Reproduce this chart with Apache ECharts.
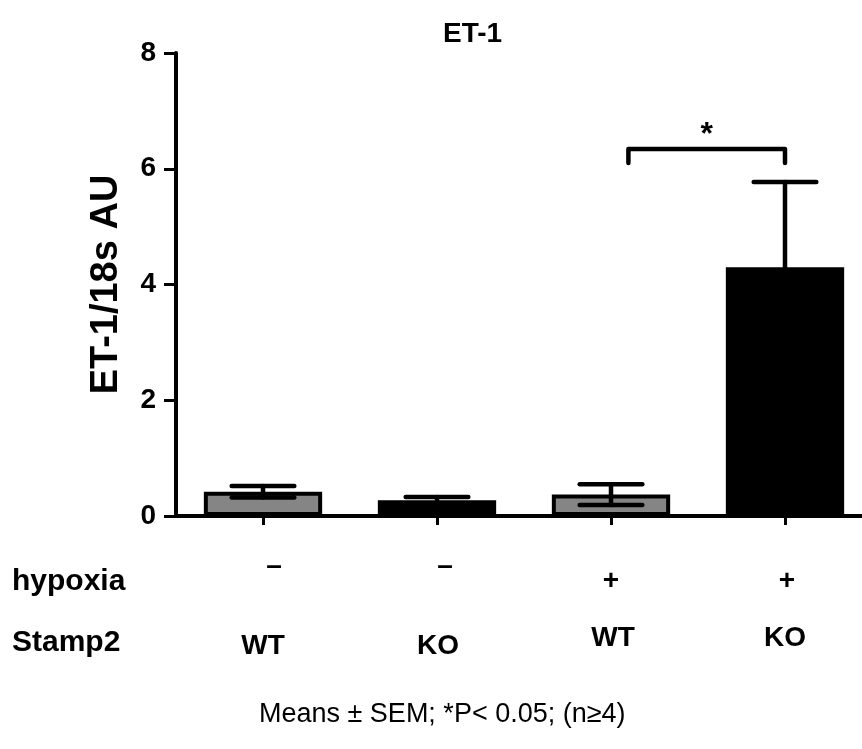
<!DOCTYPE html>
<html>
<head>
<meta charset="utf-8">
<script src="https://cdn.jsdelivr.net/npm/echarts@6/dist/echarts.min.js"></script>
<style>
  html, body { margin: 0; padding: 0; background: #fff; }
  #chart { width: 862px; height: 749px; }
</style>
</head>
<body>
<div id="chart"></div>
<script>
// groups on the x axis
const groups = ['WT-', 'KO-', 'WT+', 'KO+'];
const hypoxia = ['–', '–', '+', '+'];
const stamp2 = ['WT', 'KO', 'WT', 'KO'];

// ET-1/18s, mean and SEM
const means = [0.42, 0.27, 0.37, 4.30];
const sems = [0.1, 0.06, 0.18, 1.47];

const yTicks = [0, 2, 4, 6, 8];

// significance bracket between group 3 and 4
const sigPair = [2, 3];
const sigLevel = 6.34;
const sigLeg = 0.24;
const sigMark = '*';

const FONT = '"Liberation Sans", Arial, sans-serif';

const chart = echarts.init(document.getElementById('chart'), null, { renderer: 'canvas' });

function fillFor(genotype) {
  return genotype === 'KO' ? '#000000' : '#858585';
}

function renderError(params, api) {
  const x = api.value(0);
  const m = api.value(1);
  const e = api.value(2);
  const top = api.coord([x, m + e]);
  const bot = api.coord([x, m - e]);
  const half = api.size([1, 0])[0] * 0.18;
  const style = { stroke: '#000', lineWidth: 4.5, lineCap: 'round' };
  return {
    type: 'group',
    children: [
      { type: 'line', shape: { x1: top[0], y1: top[1], x2: bot[0], y2: bot[1] }, style },
      { type: 'line', shape: { x1: top[0] - half, y1: top[1], x2: top[0] + half, y2: top[1] }, style },
      { type: 'line', shape: { x1: bot[0] - half, y1: bot[1], x2: bot[0] + half, y2: bot[1] }, style }
    ]
  };
}

function renderBracket(params, api) {
  const a = api.coord([api.value(0), api.value(2)]);
  const b = api.coord([api.value(1), api.value(2)]);
  const band = api.size([1, 0])[0];
  const leg = api.size([0, sigLeg])[1];
  const x1 = a[0] + band * 0.1;
  const x2 = b[0];
  const style = { stroke: '#000', lineWidth: 4.5, lineCap: 'round', lineJoin: 'round', fill: null };
  return {
    type: 'group',
    children: [
      {
        type: 'polyline',
        shape: { points: [[x1, a[1] + leg], [x1, a[1]], [x2, b[1]], [x2, b[1] + leg]] },
        style
      },
      {
        type: 'text',
        style: {
          text: sigMark, x: (x1 + x2) / 2, y: a[1] + 2,
          textAlign: 'center', textVerticalAlign: 'bottom',
          font: 'bold 32px ' + FONT, fill: '#000'
        }
      }
    ]
  };
}

const labelFont = { fontFamily: FONT, fontWeight: 'bold', fontSize: 28, color: '#000' };

const option = {
  backgroundColor: '#fff',
  animation: false,
  title: [
    {
      text: 'ET-1',
      left: 438,
      top: 15,
      textStyle: { fontFamily: FONT, fontWeight: 'bold', fontSize: 28, color: '#000' }
    },
    {
      text: 'Means ± SEM; *P< 0.05; (n≥4)',
      left: 254,
      top: 696,
      textStyle: { fontFamily: FONT, fontWeight: 'normal', fontSize: 27, color: '#000' }
    }
  ],
  grid: { left: 176, top: 53, width: 696, bottom: 233, outerBoundsMode: 'none', containLabel: false },
  xAxis: [
    {
      type: 'category',
      data: groups,
      axisLine: { lineStyle: { color: '#000', width: 4 } },
      axisTick: { show: true, alignWithLabel: true, length: 9, lineStyle: { color: '#000', width: 3 } },
      axisLabel: { show: false },
      splitLine: { show: false }
    },
    {
      type: 'category',
      data: hypoxia.map((s, i) => s + '#' + i),
      position: 'bottom',
      offset: 36,
      axisLine: { show: false },
      axisTick: { show: false },
      axisLabel: {
        margin: 0,
        formatter: v => '{h' + v.split('#')[1] + '|' + v.split('#')[0] + '}',
        rich: {
          h0: Object.assign({ padding: [0, 0, 0, 22] }, labelFont),
          h1: Object.assign({ padding: [0, 0, 0, 16] }, labelFont),
          h2: Object.assign({ padding: [15, 0, 0, 0] }, labelFont),
          h3: Object.assign({ padding: [15, 0, 0, 4] }, labelFont)
        }
      }
    },
    {
      type: 'category',
      data: stamp2.map((s, i) => s + '#' + i),
      position: 'bottom',
      offset: 108,
      axisLine: { show: false },
      axisTick: { show: false },
      axisLabel: {
        margin: 0,
        formatter: v => '{s' + v.split('#')[1] + '|' + v.split('#')[0] + '}',
        rich: {
          s0: Object.assign({ padding: [8, 0, 0, 0] }, labelFont),
          s1: Object.assign({ padding: [8, 0, 0, 2] }, labelFont),
          s2: Object.assign({ padding: [0, 0, 0, 4] }, labelFont),
          s3: Object.assign({ padding: [0, 0, 0, 0] }, labelFont)
        }
      }
    }
  ],
  yAxis: {
    type: 'value',
    min: yTicks[0],
    max: yTicks[yTicks.length - 1],
    interval: yTicks[1] - yTicks[0],
    name: 'ET-1/18s AU',
    nameLocation: 'middle',
    nameGap: 50,
    nameTextStyle: { fontFamily: FONT, fontWeight: 'bold', fontSize: 38, color: '#000' },
    axisLine: { show: true, lineStyle: { color: '#000', width: 4 } },
    axisTick: { show: true, length: 12, lineStyle: { color: '#000', width: 3 } },
    axisLabel: { fontFamily: FONT, fontWeight: 'bold', fontSize: 28, color: '#000', margin: 20 },
    splitLine: { show: false }
  },
  graphic: [
    { type: 'text', left: 12, top: 567, style: { text: 'hypoxia', font: 'bold 30px ' + FONT, fill: '#000' } },
    { type: 'text', left: 12, top: 628, style: { text: 'Stamp2', font: 'bold 30px ' + FONT, fill: '#000' } }
  ],
  series: [
    {
      type: 'bar',
      xAxisIndex: 0,
      barWidth: '68%',
      data: means.map((v, i) => ({
        value: v,
        itemStyle: { color: fillFor(stamp2[i]), borderColor: '#000', borderWidth: 4 }
      })),
      z: 2
    },
    {
      type: 'custom',
      xAxisIndex: 0,
      renderItem: renderError,
      data: means.map((v, i) => [i, v, sems[i]]),
      z: 3
    },
    {
      type: 'custom',
      xAxisIndex: 0,
      renderItem: renderBracket,
      data: [[sigPair[0], sigPair[1], sigLevel]],
      z: 3
    }
  ]
};

chart.setOption(option);
</script>
</body>
</html>
